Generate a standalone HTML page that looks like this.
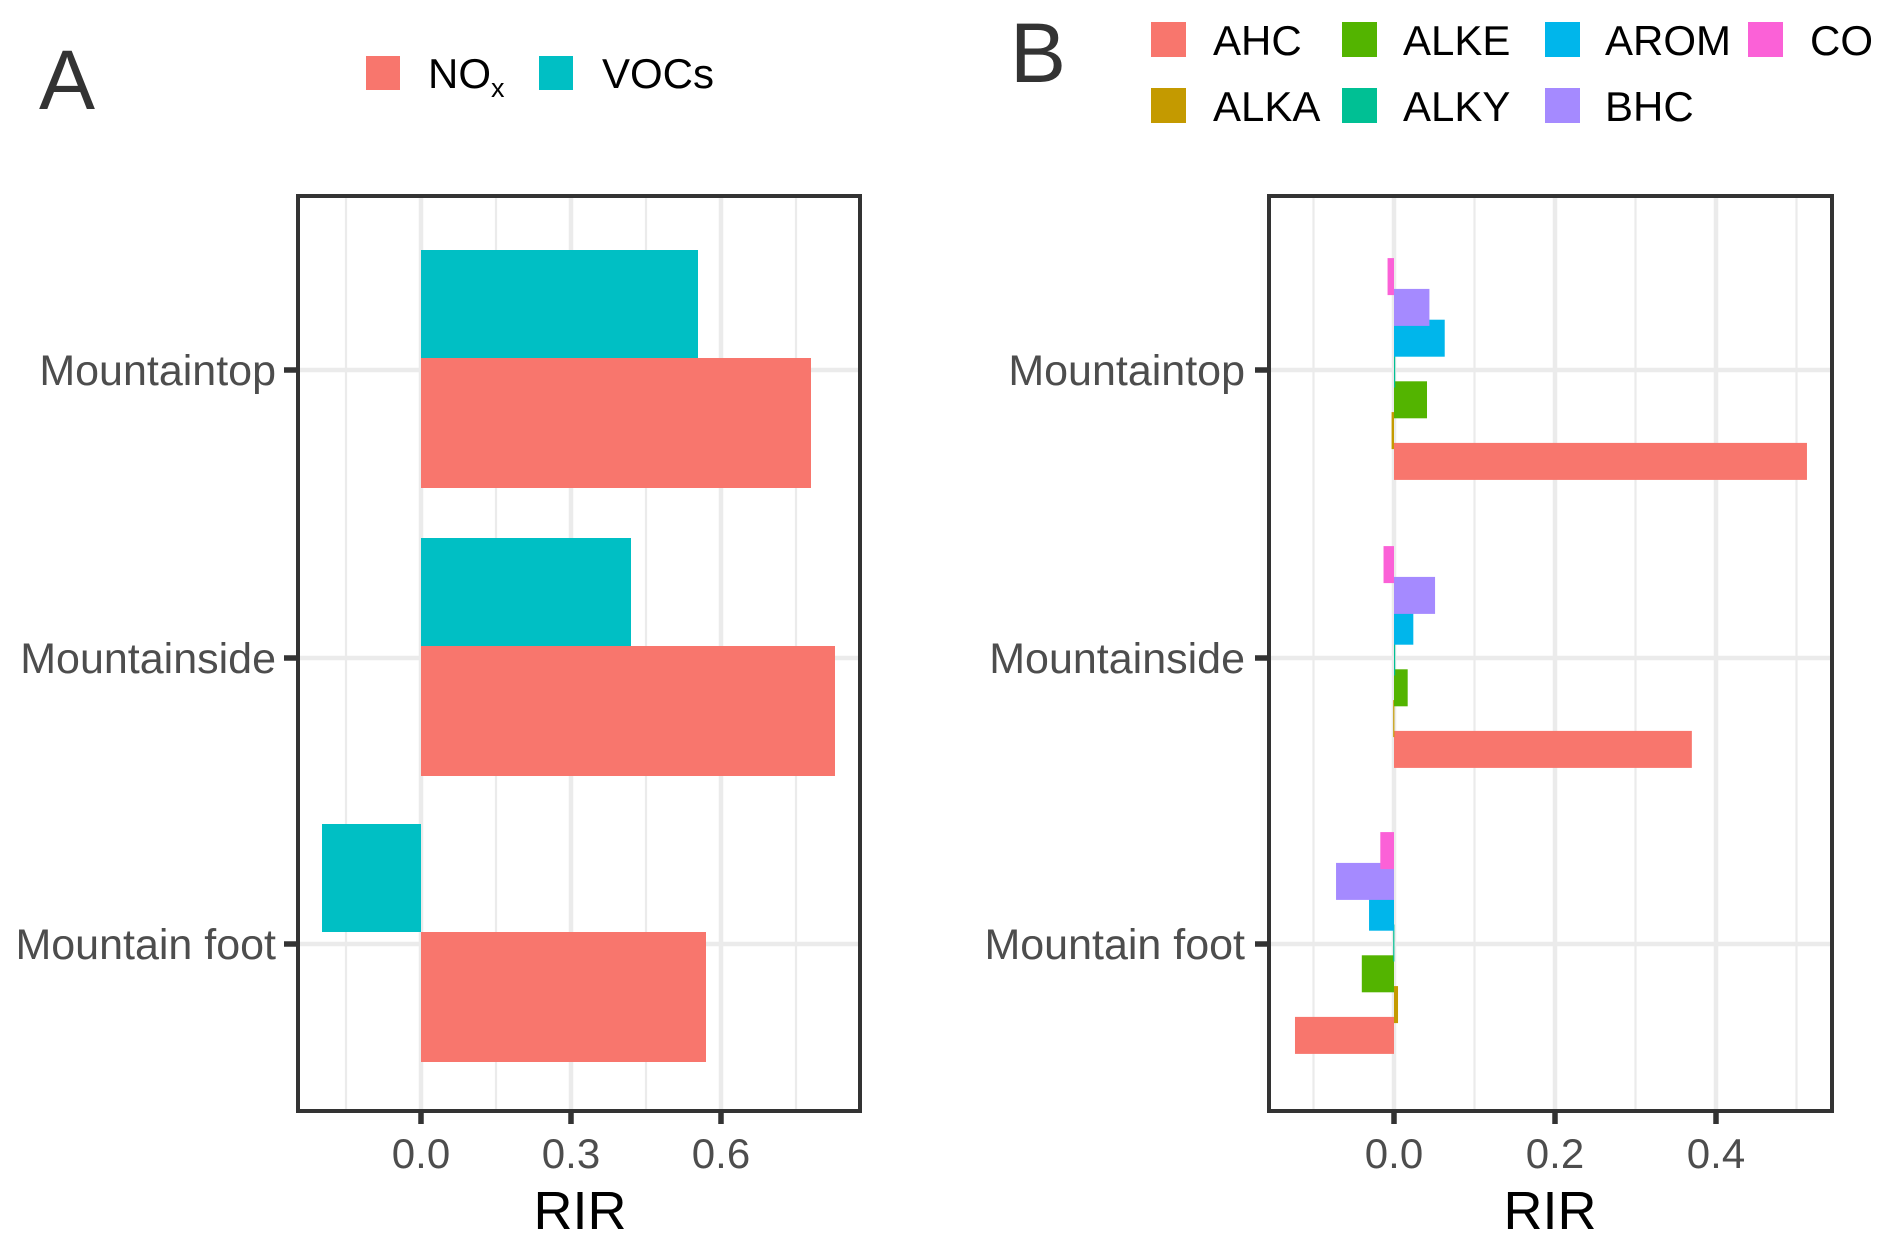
<!DOCTYPE html>
<html><head><meta charset="utf-8"><style>
html,body{margin:0;padding:0;background:#fff;}
svg{display:block;font-family:"Liberation Sans",Arial,sans-serif;}
</style></head><body>
<svg id="chart" width="1892" height="1249" viewBox="0 0 1892 1249" xmlns="http://www.w3.org/2000/svg"></svg>
<script>
const categories = ["Mountaintop","Mountainside","Mountain foot"];
const noxValues = [0.78, 0.828, 0.57];
const vocValues = [0.554, 0.42, -0.198];
const aTicks = [0.0, 0.3, 0.6];
const aTickLabels = ["0.0","0.3","0.6"];
const aMinor = [-0.15, 0.15, 0.45, 0.75];

const bSeries = ["AHC","ALKA","ALKE","ALKY","AROM","BHC","CO"];
const bColors = ["#F8766D","#C49A00","#53B400","#00C094","#00B6EB","#A58AFF","#FB61D7"];
const ahcValues  = [0.513, 0.370, -0.123];
const alkaValues = [-0.003, -0.001, 0.005];
const alkeValues = [0.041, 0.017, -0.040];
const alkyValues = [0.001, 0.001, -0.001];
const aromValues = [0.063, 0.024, -0.031];
const bhcValues  = [0.044, 0.051, -0.072];
const coValues   = [-0.008, -0.013, -0.017];
const bTicks = [0.0, 0.2, 0.4];
const bTickLabels = ["0.0","0.2","0.4"];
const bMinor = [-0.1, 0.1, 0.3, 0.5];

const svg = document.getElementById('chart');
const NS = "http://www.w3.org/2000/svg";
function mk(tag, attrs, parent){ const e=document.createElementNS(NS,tag); for(const k in attrs) e.setAttribute(k,attrs[k]); (parent||svg).appendChild(e); return e; }

const catY = [370, 658, 944];
function yCat(i){ return catY[i]; }
const CATFS=43, TICKFS=42, LEGFS=42, TITLEFS=54, LETTERFS=84;

// ---------- Panel A ----------
const A = {l:298, r:860, t:196, b:1111};
function xA(v){ return 421 + 500*v; }
const gA = mk('g',{});


aMinor.forEach(v=>{ const l=mk('line',{x1:xA(v),x2:xA(v),y1:A.t,y2:A.b,stroke:'#ebebeb','stroke-width':2.2},gA);
   });
aTicks.forEach(v=>{ const l=mk('line',{x1:xA(v),x2:xA(v),y1:A.t,y2:A.b,stroke:'#ebebeb','stroke-width':4.5},gA);
   });
categories.forEach((c,i)=>{ const l=mk('line',{x1:A.l,x2:A.r,y1:yCat(i),y2:yCat(i),stroke:'#ebebeb','stroke-width':4.5},gA);
   });
categories.forEach((c,i)=>{
 const y=yCat(i);
 const v=vocValues[i];
 const r1=mk('rect',{x:Math.min(xA(0),xA(v)),y:y-120,width:Math.abs(xA(v)-xA(0)),height:108,fill:'#00BFC4'},gA);
  
 const n=noxValues[i];
 const r2=mk('rect',{x:Math.min(xA(0),xA(n)),y:y-12,width:Math.abs(xA(n)-xA(0)),height:130,fill:'#F8766D'},gA);
  
 const t=mk('text',{x:276,y:y+15,'text-anchor':'end','font-size':CATFS,fill:'#4d4d4d'},gA); t.textContent=c;
  
 const tk=mk('line',{x1:284,x2:298,y1:y,y2:y,stroke:'#333','stroke-width':5.5},gA);
  
});
const bxA=mk('rect',{x:A.l,y:A.t,width:A.r-A.l,height:A.b-A.t,fill:'none',stroke:'#333','stroke-width':4},gA);
 
aTicks.forEach((v,i)=>{
 const tk=mk('line',{x1:xA(v),x2:xA(v),y1:A.b,y2:A.b+13,stroke:'#333','stroke-width':5.5},gA);
  
 const t=mk('text',{x:xA(v),y:1168,'text-anchor':'middle','font-size':TICKFS,fill:'#4d4d4d'},gA); t.textContent=aTickLabels[i];
  
});
const rA=mk('text',{x:580,y:1229,'text-anchor':'middle','font-size':TITLEFS,fill:'#000'},gA); rA.textContent='RIR';
 
const lA=mk('text',{x:39,y:109,'font-size':LETTERFS,fill:'#333'},gA); lA.textContent='A';
 
// legend A
const k1=mk('rect',{x:366,y:56,width:34,height:34,fill:'#F8766D'},gA);
 
const t1=mk('text',{x:428,y:88,'font-size':LEGFS,fill:'#000'},gA);
 
t1.innerHTML='NO<tspan font-size="27" dy="9">x</tspan>';
const k2=mk('rect',{x:539,y:56,width:34,height:34,fill:'#00BFC4'},gA);
 
const t2=mk('text',{x:602,y:88,'font-size':LEGFS,fill:'#000'},gA); t2.textContent='VOCs';
 

// ---------- Panel B ----------
const B = {l:1269, r:1832, t:196, b:1111};
function xB(v){ return 1394 + 805*v; }
const bData = [ahcValues, alkaValues, alkeValues, alkyValues, aromValues, bhcValues, coValues];
const gB = mk('g',{});


bMinor.forEach(v=>{ const l=mk('line',{x1:xB(v),x2:xB(v),y1:B.t,y2:B.b,stroke:'#ebebeb','stroke-width':2.2},gB);
   });
bTicks.forEach(v=>{ const l=mk('line',{x1:xB(v),x2:xB(v),y1:B.t,y2:B.b,stroke:'#ebebeb','stroke-width':4.5},gB);
   });
categories.forEach((c,i)=>{ const l=mk('line',{x1:B.l,x2:B.r,y1:yCat(i),y2:yCat(i),stroke:'#ebebeb','stroke-width':4.5},gB);
   });
categories.forEach((c,i)=>{
 const y=yCat(i);
 bSeries.forEach((s,j)=>{
  const v=bData[j][i];
  const cy = y + (3-j)*30.8 - 1.5;
  const w = Math.max(Math.abs(xB(v)-xB(0)),1.2);
  const r=mk('rect',{x:v<0?xB(v):xB(0),y:cy-18,width:w,height:37,fill:bColors[j]},gB);
   
 });
 const t=mk('text',{x:1245,y:y+15,'text-anchor':'end','font-size':CATFS,fill:'#4d4d4d'},gB); t.textContent=c;
  
 const tk=mk('line',{x1:1255,x2:1269,y1:y,y2:y,stroke:'#333','stroke-width':5.5},gB);
  
});
const bxB=mk('rect',{x:B.l,y:B.t,width:B.r-B.l,height:B.b-B.t,fill:'none',stroke:'#333','stroke-width':4},gB);
 
bTicks.forEach((v,i)=>{
 const tk=mk('line',{x1:xB(v),x2:xB(v),y1:B.b,y2:B.b+13,stroke:'#333','stroke-width':5.5},gB);
  
 const t=mk('text',{x:xB(v),y:1168,'text-anchor':'middle','font-size':TICKFS,fill:'#4d4d4d'},gB); t.textContent=bTickLabels[i];
  
});
const rB=mk('text',{x:1550,y:1229,'text-anchor':'middle','font-size':TITLEFS,fill:'#000'},gB); rB.textContent='RIR';
 
const lB=mk('text',{x:1010,y:82,'font-size':LETTERFS,fill:'#333'},gB); lB.textContent='B';
 
// legend B: column-major layout
const legCols=[1151,1342,1545,1748];
const legText=[1213,1403,1605,1810];
const legRows=[22,88];
const legOrder=[["AHC",0,0],["ALKA",0,1],["ALKE",1,0],["ALKY",1,1],["AROM",2,0],["BHC",2,1],["CO",3,0]];
legOrder.forEach(([s,c,r])=>{
 const j=bSeries.indexOf(s);
 const k=mk('rect',{x:legCols[c],y:legRows[r],width:35,height:35,fill:bColors[j]},gB);
  
 const t=mk('text',{x:legText[c],y:legRows[r]+33,'font-size':LEGFS,fill:'#000'},gB); t.textContent=s;
  
});
</script>
</body></html>
